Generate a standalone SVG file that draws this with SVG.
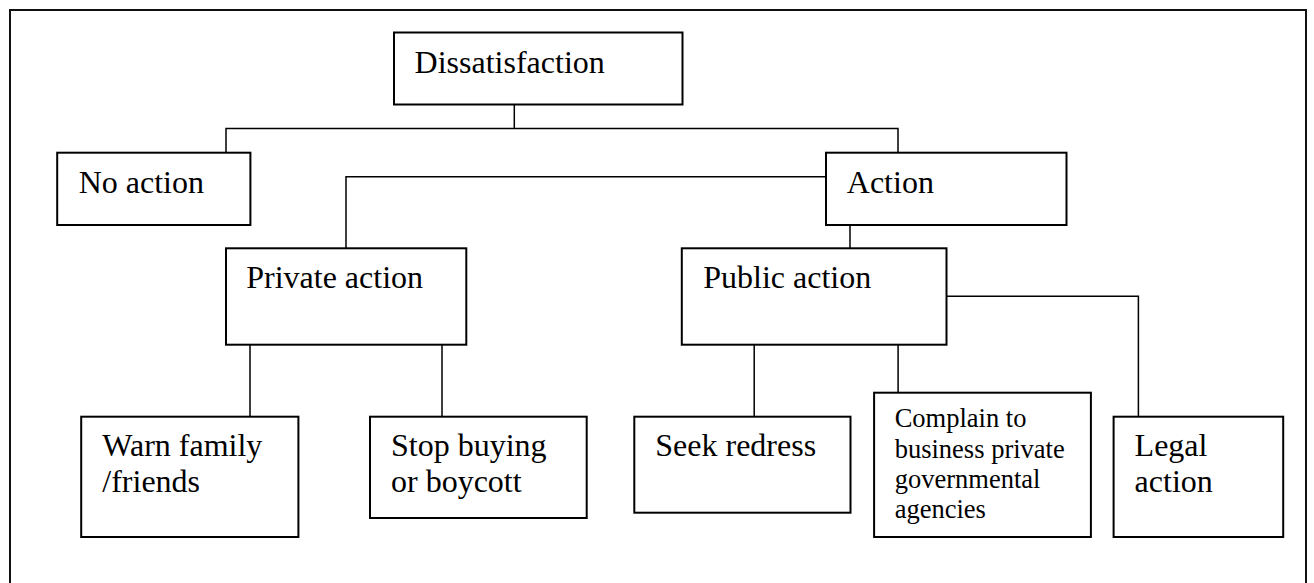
<svg xmlns="http://www.w3.org/2000/svg" width="1314" height="583" viewBox="0 0 1314 583">
  <style>
    .box { fill: #fff; stroke: #000; stroke-width: 2; }
    .frame { fill: none; stroke: #111; stroke-width: 2; }
    .link { fill: none; stroke: #000; stroke-width: 1.5; }
    text { font-family: "Liberation Serif", "Times New Roman", serif; fill: #000; font-size: 32px; }
    text.small { font-size: 26.5px; }
  </style>
  <rect width="1314" height="583" fill="#fff"/>
  <!-- outer frame, open at the bottom -->
  <path class="frame" d="M10,600 V10 H1306 V600"/>

  <!-- connectors -->
  <g id="connectors">
    <path class="link" d="M514.3,104.5 V128.5 M226,152.7 V128.5 H898 V152.7"/>
    <path class="link" d="M826,176.7 H346 V248.3"/>
    <path class="link" d="M850,225 V248.3"/>
    <path class="link" d="M250,344.7 V416.7 M442,344.7 V416.7"/>
    <path class="link" d="M754.2,344.7 V416.7 M898.1,344.7 V392.7"/>
    <path class="link" d="M946.5,296.3 H1138.4 V416.7"/>
  </g>

  <g id="dissatisfaction">
    <rect class="box" x="394" y="32.5" width="288.5" height="72"/>
    <text x="414.6" y="72.7">Dissatisfaction</text>
  </g>
  <g id="no-action">
    <rect class="box" x="57.2" y="152.7" width="193.2" height="72.3"/>
    <text x="78.7" y="192.7">No action</text>
  </g>
  <g id="action">
    <rect class="box" x="826" y="152.7" width="240.5" height="72.3"/>
    <text x="846.8" y="192.7">Action</text>
  </g>
  <g id="private-action">
    <rect class="box" x="226" y="248.3" width="240.3" height="96.4"/>
    <text x="246.2" y="288.3">Private action</text>
  </g>
  <g id="public-action">
    <rect class="box" x="681.8" y="248.3" width="264.7" height="96.4"/>
    <text x="703.2" y="288.3">Public action</text>
  </g>
  <g id="warn-family">
    <rect class="box" x="81.2" y="416.7" width="217.2" height="120.3"/>
    <text x="102.3" y="455.7">Warn family</text>
    <text x="102.3" y="492.3">/friends</text>
  </g>
  <g id="stop-buying">
    <rect class="box" x="370" y="416.7" width="216.7" height="101.3"/>
    <text x="391" y="455.7">Stop buying</text>
    <text x="391" y="492.3">or boycott</text>
  </g>
  <g id="seek-redress">
    <rect class="box" x="634.3" y="416.7" width="216.2" height="96"/>
    <text x="655.3" y="455.7">Seek redress</text>
  </g>
  <g id="complain">
    <rect class="box" x="874.1" y="392.7" width="216.8" height="144.3"/>
    <text class="small" x="894.7" y="427.3">Complain to</text>
    <text class="small" x="894.7" y="458.3">business private</text>
    <text class="small" x="894.7" y="488.3">governmental</text>
    <text class="small" x="894.7" y="518.3">agencies</text>
  </g>
  <g id="legal-action">
    <rect class="box" x="1113.6" y="416.7" width="169.6" height="120.3"/>
    <text x="1134.6" y="455.7">Legal</text>
    <text x="1134.6" y="492.3">action</text>
  </g>
</svg>
